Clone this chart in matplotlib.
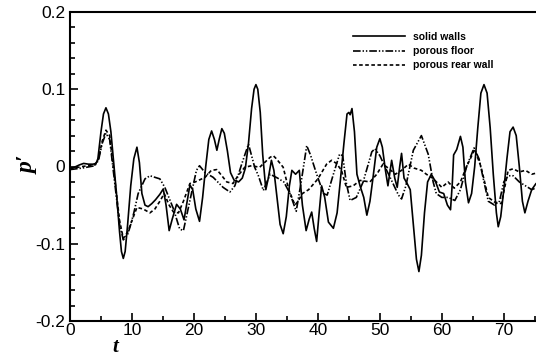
import matplotlib
matplotlib.use("Agg")
import matplotlib.pyplot as plt
from matplotlib.ticker import MultipleLocator

# ---- data ----
solid_t = [0, 0.7, 1.5, 2.2, 3.0, 3.7, 4.2, 4.5, 5.0, 5.4, 5.8, 6.2, 6.6, 7.0, 7.5, 8.0, 8.3, 8.6, 8.9, 9.3,
           9.8, 10.3, 10.8, 11.2, 11.6, 12.1, 12.6, 13.2, 13.8, 14.5, 15.05, 15.5, 16.0, 16.5, 17.2, 17.8,
           18.4, 18.9, 19.35, 19.8, 20.3, 20.9, 21.4, 21.9, 22.4, 22.85, 23.3, 23.7, 24.1, 24.5, 24.9, 25.4,
           25.9, 26.5, 27.2, 27.8, 28.3, 28.8, 29.3, 29.7, 30.0, 30.3, 30.7, 31.1, 31.6, 32.0, 32.5, 32.9,
           33.4, 33.9, 34.4, 34.9, 35.4, 35.8, 36.4, 37.0, 37.5, 38.1, 38.6, 39.0, 39.4, 39.8, 40.2, 40.6,
           41.1, 41.7, 42.5, 43.1, 43.6, 44.2, 44.7, 45.0, 45.2, 45.5, 45.9, 46.3, 46.8, 47.4, 47.9, 48.4,
           48.9, 49.5, 50.0, 50.4, 50.9, 51.3, 51.9, 52.4, 52.8, 53.2, 53.5, 53.9, 54.4, 54.9, 55.4, 55.9,
           56.3, 56.7, 57.2, 57.7, 58.3, 59.0, 59.6, 60.3, 60.9, 61.4, 61.7, 61.9, 62.4, 63.0, 63.4, 63.8,
           64.3, 64.8, 65.3, 65.8, 66.3, 66.8, 67.3, 67.8, 68.3, 68.8, 69.1, 69.5, 70.0, 70.5, 71.0, 71.5,
           72.0, 72.5, 73.0, 73.4, 73.9, 74.5, 75.2, 76.0]
solid_p = [-0.002, -0.001, 0.002, 0.004, 0.003, 0.003, 0.004, 0.010, 0.045, 0.068, 0.076, 0.068, 0.045, 0.010,
           -0.035, -0.085, -0.110, -0.119, -0.110, -0.075, -0.025, 0.010, 0.025, 0.005, -0.035, -0.050, -0.052,
           -0.048, -0.043, -0.036, -0.029, -0.050, -0.083, -0.068, -0.049, -0.055, -0.069, -0.045, -0.024,
           -0.030, -0.055, -0.071, -0.040, 0.000, 0.035, 0.046, 0.035, 0.021, 0.036, 0.049, 0.043, 0.020,
           -0.008, -0.018, -0.020, -0.015, -0.002, 0.030, 0.075, 0.100, 0.106, 0.100, 0.070, 0.015, -0.030,
           -0.015, 0.008, -0.005, -0.040, -0.075, -0.087, -0.065, -0.025, -0.005, -0.010, -0.005, -0.050,
           -0.083, -0.068, -0.059, -0.080, -0.097, -0.060, -0.025, -0.040, -0.072, -0.080, -0.060, -0.020,
           0.030, 0.068, 0.070, 0.067, 0.075, 0.045, -0.010, -0.025, -0.040, -0.063, -0.045, -0.014, 0.025,
           0.036, 0.025, -0.005, -0.025, 0.008, -0.015, -0.027, 0.000, 0.017, -0.015, -0.022, -0.030, -0.075,
           -0.120, -0.136, -0.115, -0.060, -0.020, -0.010, -0.020, -0.033, -0.035, -0.050, -0.056, -0.020,
           0.015, 0.022, 0.039, 0.025, -0.020, -0.047, -0.035, 0.000, 0.050, 0.095, 0.106, 0.095, 0.050,
           -0.010, -0.060, -0.078, -0.065, -0.030, 0.010, 0.045, 0.051, 0.040, 0.000, -0.045, -0.060, -0.045,
           -0.030, -0.022, -0.020]

floor_t = [0, 2, 4, 4.6, 5.2, 5.8, 6.4, 7.2, 8.0, 8.6, 9.3, 9.7, 10.3, 11.0, 12.1, 12.9, 14.5, 15.3, 16.7,
           17.7, 18.3, 19.35, 20.4, 20.9, 21.8, 23.1, 24.7, 25.8, 26.6, 27.7, 28.8, 29.8, 30.4, 31.2, 32.3,
           33.5, 34.5, 35.5, 36.5, 37.3, 38.2, 38.8, 39.8, 40.9, 41.5, 42.5, 43.5, 44.0, 44.6, 45.2, 46.2,
           47.3, 48.7, 49.2, 50.0, 51.1, 52.0, 53.0, 53.5, 54.2, 55.4, 56.7, 57.8, 58.6, 59.1, 60.0, 61.0,
           62.1, 63.0, 64.0, 65.2, 66.0, 66.8, 67.5, 68.5, 69.3, 70.0, 70.7, 71.5, 72.5, 73.5, 74.5, 76.0]
floor_p = [-0.004, -0.002, 0.001, 0.008, 0.030, 0.043, 0.035, -0.020, -0.075, -0.095, -0.088, -0.078, -0.060,
           -0.035, -0.016, -0.012, -0.016, -0.027, -0.055, -0.081, -0.083, -0.044, -0.005, 0.001, -0.008,
           -0.014, -0.027, -0.033, -0.025, 0.003, 0.029, -0.001, -0.012, -0.031, -0.010, -0.015, -0.020,
           -0.035, -0.058, -0.020, 0.027, 0.015, -0.010, -0.035, -0.037, -0.010, 0.016, 0.014, -0.022, -0.044,
           -0.040, -0.020, 0.019, 0.023, 0.014, -0.005, -0.020, -0.037, -0.042, -0.025, 0.021, 0.040, 0.016,
           -0.020, -0.035, -0.040, -0.040, -0.044, -0.030, 0.000, 0.024, 0.010, -0.020, -0.045, -0.050,
           -0.045, -0.020, -0.012, -0.012, -0.020, -0.025, -0.030, -0.025]

rear_t = [0, 2, 4, 4.6, 5.2, 5.8, 6.4, 7.2, 8.0, 8.6, 9.3, 10.0, 10.8, 11.8, 12.9, 13.7, 14.5, 15.2, 16.0,
          16.7, 17.5, 18.3, 19.35, 20.2, 21.8, 22.8, 23.7, 25.3, 26.3, 27.1, 28.2, 29.3, 30.6, 32.3, 32.8,
          33.3, 34.4, 35.3, 36.3, 36.8, 37.5, 38.5, 39.8, 40.3, 41.4, 42.2, 43.0, 43.8, 44.6, 45.7, 46.8,
          48.4, 49.5, 50.5, 51.5, 52.5, 53.5, 54.6, 55.5, 56.7, 57.5, 58.5, 60.0, 61.0, 62.0, 63.0, 64.0,
          65.3, 66.3, 67.5, 68.5, 69.6, 70.2, 70.7, 71.5, 72.5, 73.5, 74.5, 76.0]
rear_p = [-0.003, 0.000, 0.002, 0.010, 0.033, 0.047, 0.040, -0.015, -0.070, -0.093, -0.085, -0.070, -0.053,
          -0.055, -0.060, -0.055, -0.045, -0.035, -0.050, -0.059, -0.060, -0.045, -0.022, -0.020, -0.014,
          -0.005, -0.004, -0.020, -0.022, -0.012, -0.001, 0.001, -0.001, 0.012, 0.014, 0.010, -0.001, -0.030,
          -0.050, -0.045, -0.035, -0.030, -0.018, -0.012, 0.003, 0.008, 0.004, -0.005, -0.027, -0.025,
          -0.018, -0.020, -0.010, 0.003, -0.003, -0.010, -0.005, 0.003, -0.002, -0.005, -0.010, -0.015,
          -0.027, -0.020, -0.028, -0.020, 0.000, 0.022, 0.000, -0.040, -0.046, -0.048, -0.025, -0.005,
          -0.003, -0.007, -0.005, -0.010, -0.007]

labels = ["solid walls", "porous floor", "porous rear wall"]
x_ticks = [0, 10, 20, 30, 40, 50, 60, 70]
y_ticks = [-0.2, -0.1, 0, 0.1, 0.2]
y_ticklabels = ["-0.2", "-0.1", "0", "0.1", "0.2"]

# ---- figure ----
plt.rcParams["font.family"] = ["Liberation Sans", "DejaVu Sans"]
plt.rcParams["lines.scale_dashes"] = False

fig = plt.figure(figsize=(5.36, 3.58), dpi=100)
ax = fig.add_axes([70 / 536, 37 / 358, 471 / 536, 309 / 358])

lw = 1.2
ax.plot(solid_t, solid_p, color="black", lw=lw, label=labels[0])
ax.plot(floor_t, floor_p, color="black", lw=lw, dashes=(5.5, 1.4, 1.0, 1.4, 1.0, 1.4), label=labels[1])
ax.plot(rear_t, rear_p, color="black", lw=lw, dashes=(2.6, 1.8), label=labels[2])

ax.set_xlim(0, 76)
ax.set_ylim(-0.2, 0.2)
ax.set_xticks(x_ticks)
ax.set_yticks(y_ticks)
ax.set_yticklabels(y_ticklabels)
ax.xaxis.set_minor_locator(MultipleLocator(5))
ax.yaxis.set_minor_locator(MultipleLocator(0.02))
ax.tick_params(which="both", direction="in", top=False, right=False, width=1.2)
ax.tick_params(which="major", length=6, labelsize=12.5)
ax.tick_params(axis="x", which="major", pad=1.5)
ax.tick_params(axis="y", which="major", pad=3.5)
ax.tick_params(which="minor", length=3.8)
for s in ax.spines.values():
    s.set_linewidth(1.5)

leg = ax.legend(loc="upper left", bbox_to_anchor=(0.601, 0.935), frameon=False,
                prop={"weight": "bold", "size": 7.5}, handlelength=5.0, handletextpad=0.8,
                labelspacing=0.4, borderaxespad=0, borderpad=0)

fig.text(28 / 536, 1 - 165 / 358, "p\u2032", rotation=90, ha="center", va="center",
         fontsize=17, fontweight="bold", fontstyle="italic", family=["Liberation Serif", "DejaVu Serif"])
fig.text(115 / 536, 1 - 347 / 358, "t", ha="center", va="center",
         fontsize=15, fontweight="bold", fontstyle="italic", family=["Liberation Serif", "DejaVu Serif"])

fig.savefig("out.png", dpi=100)
